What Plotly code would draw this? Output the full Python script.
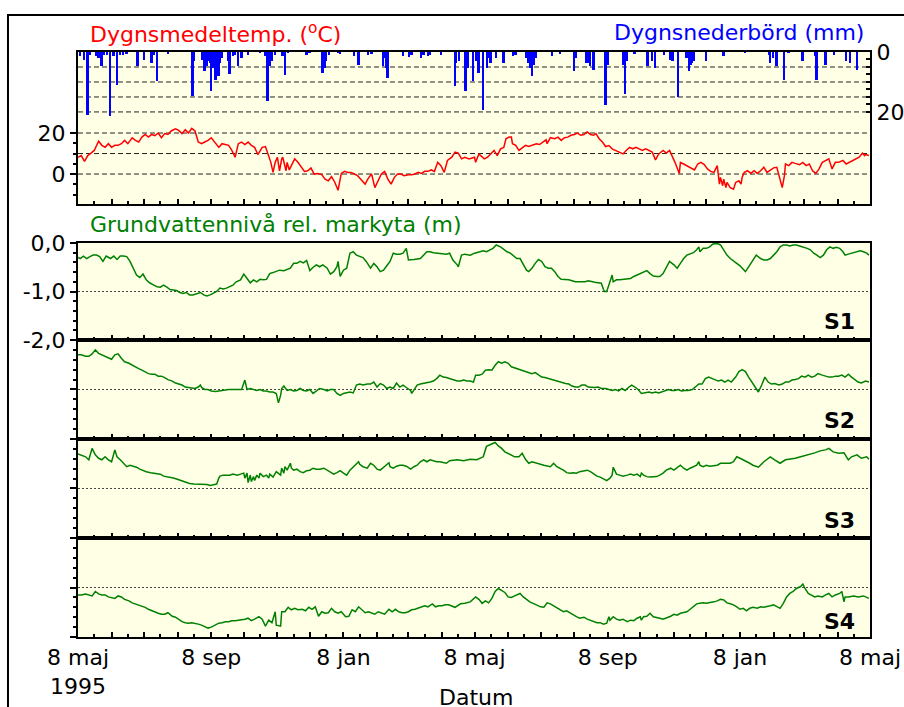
import pandas as pd
import plotly.graph_objects as go

START = pd.Timestamp("1995-05-08")
END = pd.Timestamp("1997-05-08")

# ---------------- data (day offset from 8 May 1995, value) ----------------
TEMP = [(0,8.2),(3,9.0),(6,6.2),(9,9.0),(12,10.2),(15,11.5),(19,16.0),(22,14.0),(25,13.0),(28,14.8),(31,13.0),
        (34,14.0),(37,14.0),(40,14.8),(43,16.4),(46,14.8),(50,17.7),(53,16.4),(56,15.6),(59,18.0),(62,19.3),(65,18.0),
        (68,19.3),(71,18.7),(74,20.0),(77,17.7),(80,19.7),(83,19.3),(86,21.0),(90,22.0),(93,21.3),(96,19.7),(99,21.6),
        (102,20.0),(105,22.3),(108,21.0),(111,15.6),(114,14.8),(117,15.6),(120,16.4),(123,17.7),(126,15.6),(130,13.0),
        (133,14.8),(136,14.4),(139,14.0),(142,11.5),(145,8.2),(148,14.8),(151,15.6),(154,14.4),(157,15.6),(160,14.0),
        (163,13.0),(166,9.5),(170,13.0),(173,13.4),(176,9.0),(178,5.7),(180,0.8),(182,5.7),(184,8.2),(186,1.6),(188,7.4),
        (189,8.2),(192,1.6),(193,5.7),(195,2.0),(198,5.7),(200,7.4),(203,5.7),(206,3.3),(209,1.3),(212,1.6),(215,3.0),
        (218,0.0),(221,0.3),(225,-0.3),(228,-2.5),(231,-3.3),(234,-1.3),(237,-4.0),(240,-7.9),(243,0.3),(246,1.3),
        (249,0.8),(252,0.8),(255,0.0),(258,-0.8),(261,-2.5),(265,-4.9),(268,-2.0),(271,0.0),(274,-6.6),(277,-3.3),
        (280,0.0),(283,1.3),(286,-2.5),(289,-4.9),(292,-1.6),(295,0.0),(298,0.0),(301,-0.8),(305,-0.3),(308,-0.3),
        (311,0.0),(314,0.8),(317,0.3),(320,1.3),(323,1.3),(326,2.0),(329,1.3),(332,5.7),(335,4.1),(338,0.8),(341,6.6),
        (345,8.2),(348,10.7),(351,10.2),(354,7.4),(357,8.2),(361,7.4),(366,8.2),(367,5.7),(370,9.8),(372,9.0),(375,7.4),
        (378,8.2),(381,9.8),(384,11.5),(387,9.0),(390,12.3),(393,13.0),(395,17.2),(398,18.0),(400,18.0),(401,14.8),
        (404,14.0),(407,11.5),(410,13.0),(413,14.0),(416,13.4),(420,14.0),(423,14.8),(426,14.4),(429,15.6),(432,16.7),
        (433,14.8),(436,17.7),(440,17.2),(443,18.0),(446,16.4),(449,17.7),(452,18.0),(455,18.9),(458,19.3),(461,20.0),
        (464,18.9),(467,19.3),(470,20.5),(473,19.3),(476,18.9),(478,19.7),(481,17.2),(484,15.6),(487,13.4),(490,13.9),
        (493,12.3),(496,11.5),(500,10.7),(503,9.8),(506,11.5),(509,13.0),(512,12.3),(515,13.0),(518,12.3),(521,11.5),
        (524,12.3),(527,11.5),(530,10.7),(533,6.9),(536,9.8),(540,11.5),(543,10.2),(546,11.5),(549,8.2),(551,5.7),
        (555,0.3),(556,5.7),(559,4.9),(562,4.1),(565,3.3),(569,2.0),(572,4.9),(575,5.7),(578,4.6),(581,2.5),(584,1.3),
        (587,0.8),(590,4.1),(592,-4.9),(593,-1.6),(595,-5.7),(596,-2.5),(598,-6.6),(599,-4.1),(602,-6.6),(605,-7.4),
        (607,-4.1),(610,-3.3),(612,-4.9),(613,-1.6),(615,0.8),(618,1.6),(621,0.3),(624,1.6),(627,0.3),(630,1.6),
        (633,3.3),(636,0.8),(639,2.0),(642,3.0),(645,3.3),(648,-2.5),(650,-6.6),(652,-0.8),(653,4.9),(656,4.1),
        (659,5.7),(662,5.2),(666,4.6),(669,5.7),(672,4.1),(675,4.9),(678,1.6),(681,0.3),(684,2.5),(687,5.7),(690,6.6),
        (693,7.4),(696,2.5),(699,5.7),(702,5.7),(706,6.6),(709,4.9),(712,5.7),(715,6.6),(718,7.4),(721,8.2),(724,10.2),
        (726,9.0),(727,9.5),(730,9.0)]

PRECIP = [(2,1.4),(6,2.6),(9,20.9),(11,1.0),(17,1.4),(19,2.0),(22,4.8),(24,0.9),(27,1.1),(30,21.4),(33,1.4),(36,10.9),
          (39,0.9),(42,1.1),(45,0.7),(55,4.8),(61,2.6),(68,3.7),(70,0.9),(73,9.8),(83,0.7),(106,14.8),(107,3.1),(115,2.6),
          (117,6.4),(119,4.8),(120,3.1),(122,3.7),(123,12.9),(125,5.3),(127,9.2),(128,6.4),(130,8.1),(131,3.7),(133,2.0),
          (139,3.1),(140,7.3),(143,1.4),(145,0.9),(148,4.8),(151,2.0),(157,0.9),(168,0.3),(173,1.4),(175,16.4),(177,4.8),
          (179,3.1),(182,0.9),(189,1.4),(191,7.6),(194,0.3),(211,0.9),(214,0.3),(226,7.0),(228,5.3),(229,3.1),(232,0.9),
          (240,0.3),(242,0.7),(255,1.4),(259,4.2),(268,1.1),(271,0.7),(282,4.8),(283,2.0),(285,5.3),(286,8.7),(300,1.4),
          (306,1.8),(308,0.9),(317,2.0),(319,0.9),(323,1.4),(325,0.9),(335,1.1),(348,11.4),(349,3.7),(352,2.9),(358,12.9),
          (360,5.3),(365,9.6),(368,3.1),(370,7.0),(374,19.2),(378,5.3),(380,2.0),(381,3.7),(386,2.0),(393,3.7),(402,1.4),
          (404,1.1),(414,2.0),(416,3.7),(418,5.3),(419,8.1),(421,4.2),(423,2.0),(438,1.4),(445,0.7),(458,6.4),(460,2.0),
          (469,3.7),(471,3.7),(473,4.8),(476,5.9),(487,17.6),(489,4.2),(503,4.2),(505,14.0),(507,3.1),(514,0.7),(526,4.8),
          (530,3.1),(533,5.3),(541,0.9),(547,2.6),(549,3.1),(554,15.1),(562,2.0),(564,6.4),(566,4.2),(567,3.7),(569,3.1),
          (580,3.1),(596,1.4),(616,0.3),(638,0.9),(639,3.7),(642,2.0),(645,4.8),(652,9.2),(656,0.3),(669,3.1),(681,1.4),
          (682,9.2),(690,4.2),(698,0.9),(709,3.1),(713,3.7),(719,5.9)]

S1 = [(0,-0.30),(2,-0.32),(5,-0.27),(8,-0.32),(11,-0.28),(14,-0.25),(17,-0.25),(20,-0.28),(23,-0.38),(26,-0.27),
      (30,-0.32),(33,-0.27),(36,-0.34),(39,-0.27),(42,-0.27),(45,-0.28),(48,-0.38),(51,-0.52),(54,-0.66),(57,-0.71),
      (60,-0.64),(63,-0.76),(66,-0.82),(70,-0.87),(73,-0.90),(76,-0.91),(79,-0.87),(82,-0.91),(85,-0.96),(88,-0.97),
      (91,-0.98),(94,-1.02),(97,-1.04),(100,-1.02),(103,-1.07),(106,-1.07),(110,-1.05),(113,-1.02),(116,-1.07),
      (119,-1.09),(122,-1.07),(125,-1.04),(128,-1.00),(131,-0.93),(134,-0.95),(137,-0.93),(140,-0.90),(143,-0.87),
      (146,-0.80),(150,-0.76),(153,-0.64),(156,-0.73),(159,-0.82),(162,-0.76),(165,-0.80),(168,-0.75),(171,-0.76),
      (174,-0.75),(177,-0.63),(180,-0.61),(183,-0.59),(186,-0.56),(190,-0.57),(193,-0.54),(196,-0.52),(199,-0.42),
      (202,-0.42),(205,-0.38),(208,-0.41),(211,-0.36),(214,-0.57),(217,-0.50),(220,-0.45),(223,-0.49),(226,-0.45),
      (230,-0.52),(233,-0.64),(236,-0.59),(239,-0.49),(240,-0.38),(242,-0.69),(245,-0.56),(248,-0.52),(251,-0.21),
      (254,-0.18),(257,-0.25),(260,-0.28),(263,-0.30),(266,-0.38),(270,-0.52),(273,-0.42),(276,-0.49),(279,-0.59),
      (282,-0.56),(285,-0.47),(288,-0.38),(291,-0.21),(294,-0.23),(297,-0.23),(300,-0.21),(303,-0.11),(305,-0.35),
      (310,-0.34),(316,-0.32),(322,-0.18),(325,-0.18),(328,-0.20),(334,-0.21),(340,-0.23),(343,-0.21),(346,-0.35),
      (350,-0.45),(351,-0.49),(354,-0.25),(357,-0.23),(362,-0.25),(366,-0.21),(371,-0.18),(374,-0.16),(377,-0.18),
      (380,-0.14),(383,-0.11),(386,-0.04),(390,-0.08),(393,-0.13),(396,-0.18),(399,-0.21),(402,-0.27),(405,-0.32),
      (408,-0.32),(411,-0.45),(414,-0.56),(416,-0.59),(419,-0.52),(422,-0.42),(425,-0.34),(428,-0.38),(431,-0.49),
      (434,-0.52),(437,-0.52),(440,-0.59),(443,-0.69),(446,-0.75),(450,-0.75),(453,-0.76),(456,-0.78),(459,-0.80),
      (462,-0.80),(465,-0.80),(468,-0.80),(471,-0.78),(474,-0.80),(477,-0.81),(480,-0.82),(483,-0.83),(485,-0.96),
      (486,-1.00),(488,-1.00),(490,-0.87),(491,-0.80),(493,-0.66),(494,-0.80),(497,-0.76),(500,-0.76),(503,-0.75),
      (506,-0.73),(510,-0.73),(513,-0.69),(516,-0.66),(519,-0.63),(522,-0.59),(525,-0.57),(528,-0.63),(531,-0.68),
      (534,-0.69),(537,-0.69),(540,-0.63),(543,-0.49),(546,-0.38),(550,-0.45),(553,-0.52),(556,-0.42),(559,-0.32),
      (562,-0.25),(565,-0.23),(568,-0.20),(571,-0.14),(573,-0.08),(574,-0.18),(577,-0.11),(580,-0.11),(583,-0.08),
      (586,-0.02),(590,-0.01),(593,-0.04),(596,-0.14),(599,-0.25),(602,-0.32),(605,-0.38),(608,-0.42),(611,-0.47),
      (614,-0.54),(616,-0.59),(617,-0.56),(620,-0.45),(623,-0.35),(626,-0.25),(630,-0.32),(633,-0.35),(636,-0.35),
      (639,-0.32),(642,-0.25),(645,-0.18),(648,-0.08),(651,-0.04),(654,-0.04),(657,-0.06),(660,-0.04),(663,-0.04),
      (666,-0.06),(670,-0.08),(673,-0.11),(676,-0.14),(679,-0.21),(682,-0.25),(685,-0.30),(688,-0.25),(691,-0.14),
      (694,-0.08),(697,-0.11),(700,-0.09),(703,-0.11),(706,-0.18),(708,-0.25),(711,-0.23),(716,-0.20),(719,-0.18),
      (722,-0.16),(725,-0.18),(728,-0.21),(730,-0.25)]

S2 = [(0,-0.30),(3,-0.30),(7,-0.33),(10,-0.33),(13,-0.28),(16,-0.20),(19,-0.27),(22,-0.30),(25,-0.34),(28,-0.37),
      (31,-0.39),(34,-0.30),(37,-0.28),(40,-0.37),(43,-0.44),(47,-0.47),(50,-0.51),(53,-0.54),(56,-0.58),(59,-0.61),
      (62,-0.64),(65,-0.68),(68,-0.69),(71,-0.69),(74,-0.73),(77,-0.73),(80,-0.76),(83,-0.80),(87,-0.83),(90,-0.87),
      (93,-0.89),(96,-0.91),(99,-0.95),(102,-0.96),(105,-0.98),(108,-0.98),(111,-0.95),(113,-0.91),(114,-0.96),
      (117,-1.00),(120,-1.00),(123,-1.03),(127,-1.04),(130,-1.03),(133,-1.02),(136,-1.00),(139,-1.00),(142,-1.00),
      (145,-1.00),(148,-1.00),(151,-1.00),(154,-0.81),(156,-1.00),(159,-0.98),(162,-1.00),(165,-1.02),(168,-1.00),
      (171,-1.03),(174,-1.03),(177,-1.05),(180,-1.05),(183,-1.08),(185,-1.27),(187,-1.12),(188,-0.98),(190,-0.93),
      (193,-1.02),(196,-1.00),(199,-1.03),(202,-1.02),(205,-0.98),(208,-1.02),(211,-1.03),(214,-1.00),(217,-1.08),
      (220,-1.02),(223,-0.98),(227,-1.00),(230,-1.03),(233,-1.00),(236,-1.00),(239,-1.08),(242,-1.12),(245,-1.08),
      (248,-1.07),(251,-1.05),(254,-1.07),(257,-0.91),(260,-0.89),(263,-0.91),(267,-0.89),(270,-0.89),(273,-0.85),
      (276,-0.95),(279,-0.88),(282,-0.91),(285,-0.98),(288,-0.95),(291,-0.98),(294,-0.87),(297,-0.95),(300,-0.91),
      (303,-0.96),(307,-1.02),(308,-1.08),(310,-1.00),(313,-0.91),(316,-0.89),(319,-0.88),(322,-0.87),(325,-0.85),
      (328,-0.83),(331,-0.78),(334,-0.71),(337,-0.75),(340,-0.76),(343,-0.78),(347,-0.81),(350,-0.83),(353,-0.83),
      (356,-0.81),(359,-0.83),(362,-0.83),(365,-0.85),(367,-0.71),(370,-0.71),(373,-0.69),(376,-0.61),(379,-0.60),
      (382,-0.61),(385,-0.51),(388,-0.44),(391,-0.47),(394,-0.44),(397,-0.47),(400,-0.54),(403,-0.56),(407,-0.60),
      (410,-0.62),(413,-0.64),(416,-0.66),(419,-0.68),(422,-0.66),(425,-0.71),(428,-0.75),(431,-0.76),(434,-0.78),
      (437,-0.80),(440,-0.81),(443,-0.83),(447,-0.87),(450,-0.88),(453,-0.89),(456,-0.93),(459,-0.95),(462,-0.95),
      (465,-0.91),(468,-0.91),(471,-0.95),(474,-0.96),(477,-0.96),(480,-0.95),(483,-0.98),(487,-0.98),(490,-1.00),
      (493,-1.02),(496,-1.00),(499,-1.03),(502,-0.98),(505,-1.02),(508,-0.96),(511,-0.91),(514,-0.95),(517,-1.00),
      (520,-1.08),(523,-1.07),(527,-1.05),(530,-1.07),(533,-1.05),(536,-1.07),(539,-1.05),(542,-1.03),(545,-1.00),
      (548,-1.02),(551,-1.02),(554,-1.00),(557,-1.03),(560,-1.02),(563,-1.02),(567,-1.00),(570,-0.95),(573,-0.89),
      (576,-0.89),(579,-0.78),(582,-0.75),(585,-0.78),(588,-0.81),(591,-0.83),(594,-0.81),(597,-0.85),(600,-0.81),
      (603,-0.85),(607,-0.75),(610,-0.64),(613,-0.60),(616,-0.64),(619,-0.75),(622,-0.85),(625,-0.95),(628,-1.05),
      (631,-0.91),(634,-0.75),(637,-0.85),(640,-0.89),(643,-0.88),(647,-0.91),(650,-0.89),(653,-0.85),(656,-0.85),
      (659,-0.81),(662,-0.80),(665,-0.78),(668,-0.73),(671,-0.75),(674,-0.71),(677,-0.75),(680,-0.73),(683,-0.68),
      (687,-0.71),(690,-0.73),(693,-0.75),(696,-0.75),(699,-0.73),(702,-0.73),(705,-0.71),(708,-0.75),(711,-0.69),
      (714,-0.75),(717,-0.80),(720,-0.85),(723,-0.87),(727,-0.83),(730,-0.85)]

S3 = [(0,-0.30),(3,-0.32),(7,-0.36),(10,-0.42),(13,-0.19),(16,-0.32),(19,-0.39),(22,-0.42),(25,-0.36),(28,-0.42),
      (31,-0.46),(34,-0.22),(36,-0.36),(39,-0.42),(42,-0.49),(45,-0.56),(48,-0.53),(51,-0.55),(54,-0.57),(57,-0.61),
      (60,-0.64),(63,-0.66),(67,-0.68),(70,-0.69),(73,-0.71),(76,-0.71),(79,-0.75),(82,-0.76),(85,-0.77),(88,-0.79),
      (91,-0.81),(94,-0.83),(97,-0.86),(100,-0.88),(103,-0.90),(107,-0.91),(110,-0.91),(113,-0.91),(116,-0.92),
      (119,-0.92),(122,-0.94),(125,-0.92),(128,-0.91),(130,-0.79),(131,-0.75),(134,-0.73),(137,-0.73),(140,-0.73),
      (143,-0.71),(147,-0.73),(150,-0.71),(153,-0.69),(154,-0.79),(156,-0.69),(157,-0.88),(159,-0.73),(160,-0.86),
      (162,-0.76),(163,-0.84),(165,-0.73),(167,-0.79),(168,-0.69),(171,-0.76),(174,-0.73),(176,-0.79),(177,-0.71),
      (180,-0.77),(183,-0.66),(187,-0.73),(188,-0.59),(190,-0.69),(191,-0.56),(193,-0.63),(194,-0.59),(196,-0.49),
      (197,-0.59),(199,-0.63),(202,-0.61),(205,-0.66),(208,-0.68),(211,-0.64),(214,-0.63),(217,-0.59),(220,-0.61),
      (223,-0.61),(227,-0.59),(230,-0.63),(233,-0.66),(236,-0.71),(239,-0.68),(242,-0.64),(245,-0.69),(248,-0.73),
      (251,-0.63),(254,-0.56),(257,-0.49),(259,-0.46),(260,-0.51),(263,-0.56),(267,-0.59),(270,-0.49),(273,-0.53),
      (276,-0.61),(279,-0.63),(282,-0.57),(285,-0.53),(287,-0.48),(288,-0.56),(291,-0.59),(294,-0.55),(297,-0.53),
      (300,-0.53),(303,-0.55),(307,-0.61),(310,-0.56),(313,-0.53),(316,-0.46),(319,-0.42),(322,-0.46),(325,-0.42),
      (328,-0.44),(331,-0.46),(334,-0.46),(337,-0.48),(340,-0.49),(343,-0.44),(350,-0.42),(356,-0.44),(362,-0.41),
      (368,-0.42),(374,-0.36),(377,-0.15),(380,-0.12),(385,-0.07),(388,-0.14),(391,-0.19),(394,-0.26),(397,-0.29),
      (400,-0.32),(403,-0.36),(407,-0.36),(410,-0.29),(413,-0.41),(416,-0.49),(419,-0.46),(423,-0.49),(430,-0.53),
      (436,-0.56),(439,-0.49),(442,-0.56),(445,-0.59),(448,-0.63),(451,-0.68),(454,-0.69),(457,-0.68),(460,-0.69),
      (463,-0.66),(467,-0.64),(470,-0.63),(473,-0.66),(476,-0.71),(479,-0.75),(482,-0.77),(485,-0.81),(488,-0.84),
      (491,-0.79),(493,-0.73),(494,-0.57),(496,-0.69),(497,-0.71),(500,-0.73),(503,-0.75),(507,-0.73),(510,-0.71),
      (513,-0.73),(516,-0.71),(519,-0.76),(520,-0.69),(522,-0.73),(525,-0.76),(528,-0.77),(531,-0.77),(534,-0.76),
      (537,-0.73),(540,-0.69),(543,-0.63),(547,-0.59),(550,-0.63),(553,-0.57),(556,-0.53),(559,-0.59),(562,-0.63),
      (565,-0.59),(568,-0.56),(571,-0.53),(573,-0.46),(574,-0.53),(577,-0.56),(580,-0.53),(583,-0.55),(587,-0.53),
      (590,-0.53),(593,-0.49),(596,-0.49),(599,-0.48),(602,-0.49),(605,-0.46),(608,-0.36),(611,-0.39),(614,-0.42),
      (617,-0.46),(620,-0.49),(623,-0.53),(628,-0.57),(633,-0.46),(639,-0.36),(643,-0.42),(648,-0.49),(653,-0.42),
      (657,-0.41),(662,-0.39),(667,-0.36),(671,-0.34),(676,-0.30),(680,-0.28),(685,-0.24),(690,-0.22),(693,-0.19),
      (697,-0.26),(702,-0.29),(707,-0.28),(711,-0.42),(714,-0.36),(719,-0.32),(723,-0.39),(728,-0.36),(730,-0.41)]

S4 = [(0,-1.15),(3,-1.15),(7,-1.13),(10,-1.15),(13,-1.17),(16,-1.08),(19,-1.13),(22,-1.15),(25,-1.15),(28,-1.19),
      (31,-1.20),(34,-1.22),(37,-1.17),(40,-1.19),(43,-1.24),(47,-1.27),(50,-1.31),(53,-1.33),(56,-1.35),(59,-1.37),
      (62,-1.40),(65,-1.44),(68,-1.47),(71,-1.49),(74,-1.52),(77,-1.54),(80,-1.54),(83,-1.51),(87,-1.58),(90,-1.60),
      (93,-1.64),(96,-1.69),(99,-1.71),(102,-1.72),(105,-1.71),(108,-1.72),(111,-1.74),(114,-1.76),(117,-1.79),
      (120,-1.82),(123,-1.80),(127,-1.76),(130,-1.72),(133,-1.71),(136,-1.69),(139,-1.69),(142,-1.67),(145,-1.67),
      (148,-1.66),(151,-1.66),(154,-1.64),(157,-1.62),(160,-1.67),(163,-1.64),(167,-1.59),(170,-1.64),(173,-1.78),
      (176,-1.66),(179,-1.71),(182,-1.49),(183,-1.76),(187,-1.78),(188,-1.49),(191,-1.49),(194,-1.40),(197,-1.45),
      (200,-1.42),(203,-1.45),(207,-1.44),(210,-1.47),(213,-1.40),(216,-1.44),(219,-1.39),(222,-1.58),(225,-1.49),
      (228,-1.52),(231,-1.51),(234,-1.42),(237,-1.49),(240,-1.52),(243,-1.49),(247,-1.59),(250,-1.58),(253,-1.45),
      (256,-1.49),(259,-1.39),(262,-1.45),(265,-1.51),(268,-1.49),(271,-1.52),(274,-1.54),(277,-1.49),(280,-1.51),
      (283,-1.54),(287,-1.44),(290,-1.49),(293,-1.44),(296,-1.49),(299,-1.51),(302,-1.51),(305,-1.49),(308,-1.45),
      (311,-1.44),(314,-1.42),(317,-1.39),(320,-1.37),(323,-1.39),(327,-1.33),(330,-1.39),(333,-1.37),(336,-1.37),
      (339,-1.35),(342,-1.35),(348,-1.40),(353,-1.33),(357,-1.32),(362,-1.29),(367,-1.19),(370,-1.24),(373,-1.32),
      (376,-1.27),(379,-1.31),(382,-1.22),(385,-1.08),(388,-1.02),(391,-1.06),(394,-1.10),(397,-1.19),(400,-1.20),
      (403,-1.17),(408,-1.12),(411,-1.19),(414,-1.24),(417,-1.29),(420,-1.32),(423,-1.35),(427,-1.39),(430,-1.40),
      (433,-1.31),(436,-1.33),(439,-1.37),(442,-1.40),(445,-1.45),(448,-1.49),(451,-1.47),(454,-1.51),(457,-1.56),
      (460,-1.59),(463,-1.62),(467,-1.60),(470,-1.64),(473,-1.66),(476,-1.69),(479,-1.71),(482,-1.71),(485,-1.74),
      (488,-1.72),(490,-1.59),(491,-1.66),(494,-1.59),(497,-1.64),(500,-1.66),(503,-1.64),(507,-1.69),(510,-1.66),
      (513,-1.67),(516,-1.62),(519,-1.59),(520,-1.66),(522,-1.59),(525,-1.58),(528,-1.52),(531,-1.59),(534,-1.60),
      (537,-1.62),(540,-1.64),(543,-1.62),(547,-1.58),(550,-1.54),(553,-1.56),(556,-1.52),(559,-1.51),(562,-1.49),
      (565,-1.44),(568,-1.39),(571,-1.33),(574,-1.32),(577,-1.31),(580,-1.32),(583,-1.31),(587,-1.29),(590,-1.27),
      (593,-1.24),(596,-1.25),(599,-1.31),(602,-1.33),(605,-1.35),(608,-1.39),(611,-1.44),(614,-1.42),(617,-1.47),
      (620,-1.42),(623,-1.40),(627,-1.42),(630,-1.39),(633,-1.40),(636,-1.39),(639,-1.37),(642,-1.35),(645,-1.39),
      (648,-1.42),(651,-1.32),(654,-1.19),(657,-1.12),(660,-1.08),(663,-1.02),(667,-0.98),(669,-0.93),(671,-1.02),
      (674,-1.12),(677,-1.15),(680,-1.19),(683,-1.17),(687,-1.19),(690,-1.15),(693,-1.12),(696,-1.19),(699,-1.15),
      (703,-1.12),(705,-1.08),(707,-1.29),(708,-1.19),(711,-1.19),(716,-1.17),(720,-1.19),(725,-1.17),(730,-1.22)]

MONTH_TICKS = pd.date_range("1995-05-01", "1997-05-01", freq="MS") + pd.Timedelta(days=7)
HALF_TICKS = pd.date_range("1995-05-01", "1997-04-01", freq="MS") + pd.Timedelta(days=22)
X_LABELS = {0: "8 maj<br>1995", 4: "8 sep", 8: "8 jan", 12: "8 maj", 16: "8 sep", 20: "8 jan", 24: "8 maj"}
GW_LABELS = ["-2,0", "-1,0", "0,0"]

# ---------------- styling constants ----------------
FONT = "DejaVu Sans"
FS = 22
BG = "#FFFFE6"
GREEN = "#008000"

def unzip(pairs):
    d = [START + pd.Timedelta(days=p[0]) for p in pairs]
    v = [p[1] for p in pairs]
    return d, v

fig = go.Figure()

pd_x, pd_y = unzip(PRECIP)
fig.add_trace(go.Bar(x=pd_x, y=pd_y, xaxis="x", yaxis="y2", marker=dict(color="#0000FF", line=dict(width=0)),
                     width=1.7 * 86400000, showlegend=False))
tx, ty = unzip(TEMP)
fig.add_trace(go.Scatter(x=tx, y=ty, xaxis="x", yaxis="y", mode="lines",
                         line=dict(color="#FF0000", width=1.5), showlegend=False))

for i, s in enumerate([S1, S2, S3, S4]):
    sx, sy = unzip(s)
    fig.add_trace(go.Scatter(x=sx, y=sy, xaxis="x%d" % (i + 2), yaxis="y%d" % (i + 3), mode="lines",
                             line=dict(color=GREEN, width=1.5), showlegend=False))

tickfont = dict(family=FONT, size=FS, color="black")

def xaxis_cfg(anchor, labels=False):
    cfg = dict(type="date", range=[START, END], anchor=anchor, showline=True, mirror=True, linecolor="black",
               linewidth=2, ticks="inside", tickvals=list(MONTH_TICKS), ticklen=5, tickwidth=2, tickcolor="black",
               showgrid=False, zeroline=False, automargin=False, tickfont=tickfont,
               minor=dict(tickvals=list(HALF_TICKS), ticks="inside", ticklen=3, tickwidth=2, tickcolor="black",
                          showgrid=False))
    if labels:
        cfg["ticktext"] = [X_LABELS.get(i, "") for i in range(len(MONTH_TICKS))]
        cfg["showticklabels"] = True
    else:
        cfg["showticklabels"] = False
    return cfg

# domains (paper fractions of the 585 px plot height)
DOM_TOP = [0.7402, 1.0]
DOM_S = [[0.5077, 0.6735], [0.3385, 0.5077], [0.1692, 0.3385], [0.0, 0.1692]]

layout = dict(
    width=904, height=707, template="none",
    margin=dict(l=78, r=34, t=52, b=70, autoexpand=False),
    paper_bgcolor="white", plot_bgcolor=BG,
    font=dict(family=FONT, size=FS, color="black"),
    showlegend=False, bargap=0,
    xaxis=xaxis_cfg("y"),
    yaxis=dict(domain=DOM_TOP, anchor="x", range=[-14.6, 59.5], showline=True, mirror=False, linecolor="black",
               linewidth=2, ticks="outside", tickvals=[0, 20], ticktext=["0", "20"], ticklen=6, tickwidth=2,
               tickcolor="black", showgrid=False, zeroline=False, automargin=False, tickfont=tickfont,
               minor=dict(tickvals=[-10, -5, 5, 10, 15], ticks="outside", ticklen=3, tickwidth=2,
                          tickcolor="black", showgrid=False)),
    yaxis2=dict(overlaying="y", side="right", anchor="x", range=[50.7, 0], showline=True, linecolor="black",
                linewidth=2, ticks="inside", tickvals=[0, 20], ticktext=["0", "20"], ticklen=4, tickwidth=2,
                tickcolor="black", showgrid=False, zeroline=False, automargin=False, tickfont=tickfont,
                minor=dict(tickvals=[2.5, 5, 7.5, 10, 12.5, 15, 17.5], ticks="inside", ticklen=4, tickwidth=2,
                           tickcolor="black", showgrid=False)),
)

for i in range(4):
    xa = "xaxis%d" % (i + 2)
    ya = "yaxis%d" % (i + 3)
    layout[xa] = xaxis_cfg("y%d" % (i + 3), labels=(i == 3))
    layout[xa]["matches"] = "x"
    layout[ya] = dict(domain=DOM_S[i], anchor="x%d" % (i + 2), range=[-2, 0], showline=True, mirror=True,
                      linecolor="black", linewidth=2, ticks="outside", tickvals=[-2, -1, 0],
                      ticktext=GW_LABELS, showticklabels=(i == 0), ticklen=6, tickwidth=2, tickcolor="black",
                      showgrid=False, zeroline=False, automargin=False, tickfont=tickfont,
                      minor=dict(tickvals=[-1.8, -1.6, -1.4, -1.2, -0.8, -0.6, -0.4, -0.2], ticks="outside",
                                 ticklen=3, tickwidth=2, tickcolor="black", showgrid=False))

fig.update_layout(**layout)

shapes = []
for v in [0, 10, 20]:
    shapes.append(dict(type="line", xref="x domain", yref="y", x0=0, x1=1, y0=v, y1=v, layer="below",
                       line=dict(color="#222222", width=1, dash="5px,3px")))
for v in [5, 10, 15, 20]:
    shapes.append(dict(type="line", xref="x domain", yref="y2", x0=0, x1=1, y0=v, y1=v, layer="below",
                       line=dict(color="#222222", width=1, dash="5px,3px")))
for i in range(4):
    shapes.append(dict(type="line", xref="x%d domain" % (i + 2), yref="y%d" % (i + 3), x0=0, x1=1, y0=-1, y1=-1,
                       layer="below", line=dict(color="#444444", width=1, dash="2px,2px")))
# outer frame
shapes.append(dict(type="rect", xref="paper", yref="paper", x0=-0.0884, x1=1.3, y0=-0.3, y1=1.0632,
                   line=dict(color="black", width=2), fillcolor="rgba(0,0,0,0)", layer="above"))
fig.update_layout(shapes=shapes)

ann = [
    dict(text="Dygnsmedeltemp. (<sup>o</sup>C)", x=0.0126, y=1.0325, xanchor="left", yanchor="middle",
         font=dict(color="#FF0000", size=FS, family=FONT)),
    dict(text="Dygnsnederbörd (mm)", x=0.995, y=1.0325, xanchor="right", yanchor="middle",
         font=dict(color="#0000FF", size=FS, family=FONT)),
    dict(text="Grundvattennivå rel. markyta (m)", x=0.0126, y=0.7043, xanchor="left", yanchor="middle",
         font=dict(color=GREEN, size=FS, family=FONT)),
    dict(text="Datum", x=0.5025, y=-0.1026, xanchor="center", yanchor="middle",
         font=dict(color="black", size=FS, family=FONT)),
]
for lbl, yy in zip(["S1", "S2", "S3", "S4"], [0.5385, 0.3709, 0.2000, 0.0262]):
    ann.append(dict(text="<b>%s</b>" % lbl, x=0.9836, y=yy, xanchor="right", yanchor="middle",
                    font=dict(color="black", size=FS, family=FONT)))
for a in ann:
    a.update(xref="paper", yref="paper", showarrow=False)
fig.update_layout(annotations=ann)

fig.write_html("out.html")
